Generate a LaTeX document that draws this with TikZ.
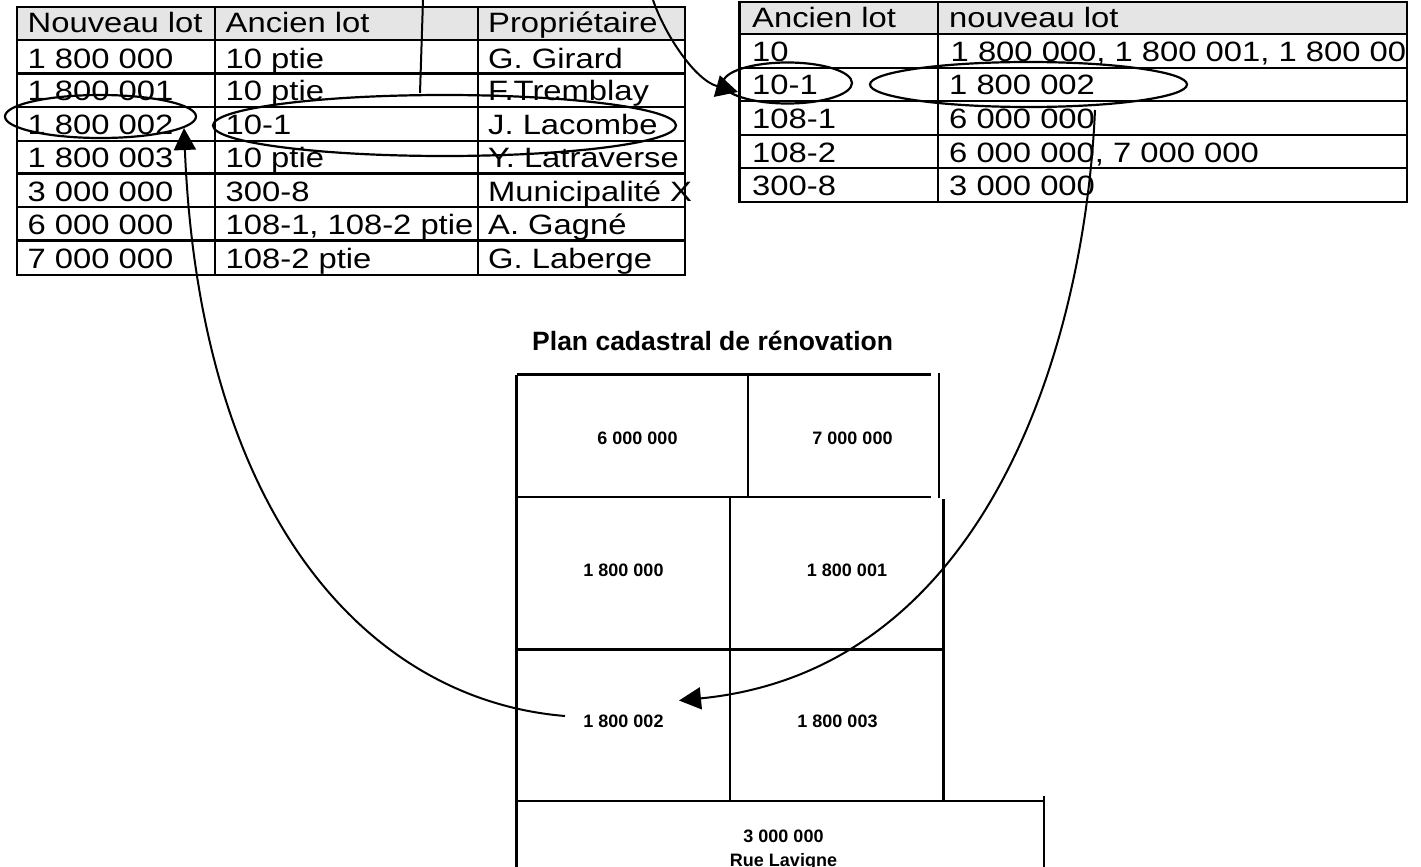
\documentclass[tikz,border=0pt]{standalone}
\usepackage{fontspec}
\usetikzlibrary{arrows.meta,shapes.geometric}
\setmainfont{Liberation Sans}
\newfontfamily\tabfont[FakeStretch=1.17]{Liberation Sans}
\newfontfamily\planfont{Liberation Sans Bold}
\tikzset{
 cell/.style={anchor=base west,inner sep=0pt,font=\tabfont\fontsize{28}{30}\selectfont},
 plotlabel/.style={anchor=base,inner sep=0pt,font=\planfont\fontsize{18}{20}\selectfont},
 ring/.style={draw=black,line width=2.2pt,ellipse,inner sep=0pt,minimum width=#1},
 link/.style={draw=black,line width=2pt},
 tiplink/.style={link,-{Triangle[length=22pt,width=22pt]}},
 grid/.style={draw=black,line width=2.6pt,line cap=butt},
 plan/.style={draw=black,line width=2.3pt},
}
\begin{document}
\begin{tikzpicture}[x=1pt,y=-1pt]
\useasboundingbox (0,0) rectangle (1421,867);
% left table
\fill[black!10] (17,7) rectangle (685,40);
\draw[grid] (17,7) rectangle (685,275);
\foreach \yy in {40,73.5,107,141,173.5,207,240.5}{\draw[grid] (17,\yy) -- (685,\yy);}
\foreach \xx in {215,478}{\draw[grid] (\xx,7) -- (\xx,275);}
\foreach \nm/\yy/\a/\b/\c in {h/32.7/Nouveau lot/Ancien lot/Propriétaire,
 r/68/1 800 000/10 ptie/G. Girard,
 s/100.7/1 800 001/10 ptie/F.Tremblay,
 t/134/1 800 002/10-1/J. Lacombe,
 u/167/1 800 003/10 ptie/Y. Latraverse,
 v/201/3 000 000/300-8/Municipalité X,
 w/234/6 000 000/{108-1, 108-2 ptie}/A. Gagné,
 x/268/7 000 000/108-2 ptie/G. Laberge}{
 \node[cell] (\nm1) at (27.5,\yy) {\a};
 \node[cell] (\nm2) at (225.5,\yy) {\b};
 \node[cell] (\nm3) at (488,\yy) {\c};
}
% right table
\fill[black!10] (739.5,2) rectangle (1407,34);
\draw[grid] (739.5,2) rectangle (1407,202);
\foreach \yy in {34,68,101,135,168}{\draw[grid] (739.5,\yy) -- (1407,\yy);}
\draw[grid] (938,2) -- (938,202);
\foreach \nm/\yy/\a/\b in {ph/28/Ancien lot/nouveau lot,
 pa/95/10-1/1 800 002,
 pb/128/108-1/6 000 000,
 pc/162/108-2/{6 000 000, 7 000 000},
 pd/195/300-8/3 000 000}{
 \node[cell] (\nm1) at (752,\yy) {\a};
 \node[cell] (\nm2) at (949,\yy) {\b};
}
\node[cell] (pz1) at (752,62) {10};
\begin{scope}
\clip (938,34) rectangle (1407,68);
\node[cell] (pz2) at (950.5,62) {1 800 000, 1 800 001, 1 800 003};
\end{scope}
% plan
\node[anchor=base west,inner sep=0pt,font=\planfont\fontsize{26.5}{28}\selectfont] (title) at (532,350) {Plan cadastral de rénovation};
\draw[plan] (516.5,374.5) -- (516.5,867);
\draw[plan] (516.5,374.5) -- (931,374.5);
\draw[plan] (939,373) -- (939,498);
\draw[plan] (516.5,497) -- (931,497);
\draw[plan] (748,374.5) -- (748,497);
\draw[plan] (943.5,499) -- (943.5,801);
\draw[plan] (730,497) -- (730,801);
\draw[plan] (516.5,649.5) -- (943.5,649.5);
\draw[plan] (516.5,801) -- (1044,801);
\draw[plan] (1044,796) -- (1044,867);
\node[plotlabel] (l6) at (637.5,444) {6 000 000};
\node[plotlabel] (l7) at (852.5,444) {7 000 000};
\node[plotlabel] (l0) at (623.5,576) {1 800 000};
\node[plotlabel] (l1) at (847,576) {1 800 001};
\node[plotlabel] (lot) at (623.5,727) {1 800 002};
\node[plotlabel] (l3) at (837.5,727) {1 800 003};
\node[plotlabel] (l30) at (783.5,842) {3 000 000};
\node[plotlabel] (rue) at (783.5,866) {Rue Lavigne};
% ellipses
\node[ring=191pt,minimum height=43pt] (e1) at (100.5,116.5) {};
\node[ring=463pt,minimum height=61pt] (e2) at (444.5,125.5) {};
\node[ring=129pt,minimum height=41pt] (e3) at (787.5,83) {};
\node[ring=317pt,minimum height=45pt] (e4) at (1028.5,84.5) {};
% connectors
\coordinate (topa) at (423,0);
\coordinate (topb) at (653,0);
\coordinate (startc) at (1095,110);
\coordinate (tipc) at (679,700.5);
\coordinate (startd) at (565,716);
\coordinate (tipd) at (184,128);
\coordinate (tipb) at (738,92);
\coordinate (enda) at (420,93);
\draw[link] (topa) -- (enda);
\draw[tiplink] (topb) .. controls (665,35) and (695,80) .. (tipb);
\draw[tiplink] (startc) .. controls (1085,340) and (990,670) .. (tipc);
\draw[tiplink] (startd) .. controls (370,700) and (200,520) .. (tipd);
\end{tikzpicture}
\end{document}
